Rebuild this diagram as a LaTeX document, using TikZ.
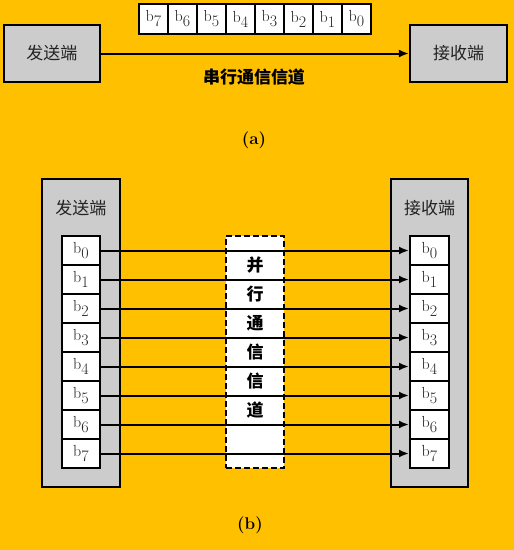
\documentclass[tikz,border=0pt]{standalone}
\usepackage{fontspec}
\newfontfamily\cjk{Noto Sans CJK SC}
\usetikzlibrary{arrows.meta,positioning}
\definecolor{ChanAmber}{HTML}{FFC000}
\definecolor{ChanGray}{HTML}{CCCCCC}
\definecolor{ChanInk}{HTML}{222222}
\newcommand{\bitname}[1]{b\raisebox{-5pt}{#1}}

\begin{document}
\begin{tikzpicture}[x=1pt,y=-1pt,
  endbox/.style={draw,line width=2.2pt,fill=ChanGray,inner sep=0pt},
  bitcell/.style={draw,line width=2pt,fill=white,inner sep=0pt,text=ChanInk,font=\fontsize{16}{16}\selectfont},
  endlabel/.style={text=ChanInk,font=\cjk\fontsize{17}{17}\selectfont},
  chanlabel/.style={font=\cjk\bfseries\fontsize{17}{17}\selectfont},
  caplabel/.style={font=\bfseries\fontsize{17}{17}\selectfont},
  wire/.style={line width=2pt,-{Latex[length=10pt,width=8pt]}}]
  \fill[ChanAmber] (0,0) rectangle (514,550);
  \useasboundingbox (0,0) rectangle (514,550);
  % (a) serial link
  \node[endbox,minimum width=96pt,minimum height=57pt] (sender) at (52,53.5) {};
  \node[endlabel] (sendername) at (sender.center) {发送端};
  \node[endbox,minimum width=97pt,minimum height=57pt] (receiver) at (458.5,53.5) {};
  \node[endlabel] (receivername) at (receiver.center) {接收端};
  \foreach \i in {0,...,7}
    \node[bitcell,minimum width=29pt,minimum height=30pt] (sb\i) at (356.5-29*\i,19) {\bitname{\i}};
  \draw[wire] (sender.east) -- (receiver.west);
  \node[chanlabel] (serialname) at (254,77) {串行通信信道};
  \node[caplabel] (capa) at (254,140) {(a)};
  % (b) parallel link
  \node[endbox,minimum width=78pt,minimum height=308pt] (psender) at (81,333) {};
  \node[endlabel] (psendername) at (81,208) {发送端};
  \node[endbox,minimum width=77pt,minimum height=308pt] (preceiver) at (429.5,333) {};
  \node[endlabel] (preceivername) at (429.5,208) {接收端};
  \node[draw,dash pattern=on 6pt off 3pt,line width=2.2pt,fill=white,minimum width=58pt,minimum height=232pt] (channel) at (255,352) {};
  \foreach \i in {0,...,7} {
    \node[bitcell,minimum width=38pt,minimum height=29pt] (l\i) at (81,250.5+29*\i) {\bitname{\i}};
    \node[bitcell,minimum width=39pt,minimum height=29pt] (r\i) at (429.5,250.5+29*\i) {\bitname{\i}};
  }
  \foreach \i in {0,...,7}
    \draw[wire] (l\i.east) -- (r\i.west);
  \foreach \c [count=\k from 0] in {并,行,通,信,信,道}
    \node[chanlabel] (ch\k) at (255,265+29*\k) {\c};
  \node[caplabel] (capb) at (250,525) {(b)};
\end{tikzpicture}
\end{document}
